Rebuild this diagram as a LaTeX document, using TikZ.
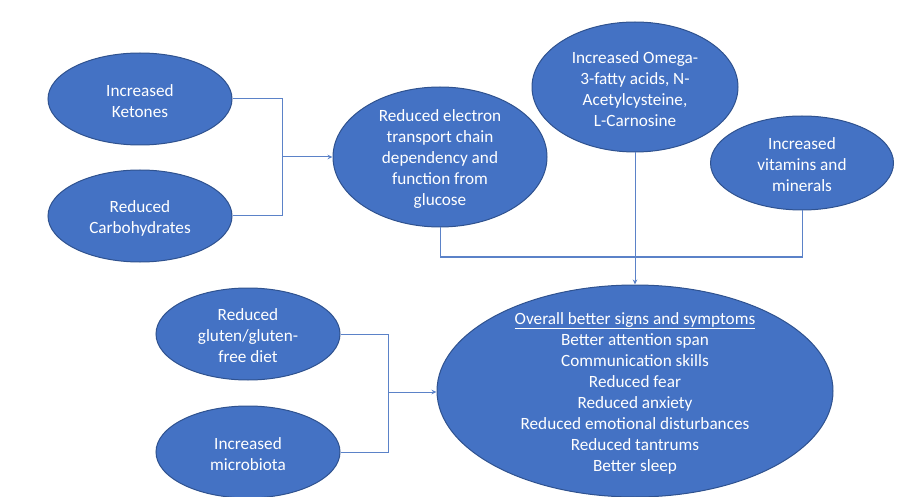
\documentclass[tikz,border=0pt]{standalone}
\usepackage{fontspec}
\setmainfont{Carlito}
\usetikzlibrary{shapes.geometric,arrows.meta}
\definecolor{fillblue}{HTML}{4472C4}
\definecolor{edgeblue}{HTML}{2F528F}
\definecolor{lineblue}{HTML}{5B82C8}
\tikzset{
  blob/.style={ellipse, fill=fillblue, draw=edgeblue, line width=1pt, inner sep=0pt},
  txt/.style={text=white, align=center, font=\fontsize{17.2}{21}\selectfont, inner sep=0pt, yshift=-2pt},
  conn/.style={draw=lineblue, line width=1pt},
  arr/.style={conn, -{Stealth[length=5pt,width=4.5pt]}}
}
\begin{document}
\begin{tikzpicture}[x=1pt,y=-1pt]
\useasboundingbox (0,0) rectangle (905,497);
% ellipses
\node[blob, minimum width=184, minimum height=92] (ket) at (140,99) {};
\node[txt] at (ket) {Increased\\Ketones};
\node[blob, minimum width=184, minimum height=92] (carb) at (140,216) {};
\node[txt] at (carb) {Reduced\\Carbohydrates};
\node[blob, minimum width=214, minimum height=140] (etc) at (440,157) {};
\node[txt] at (etc) {Reduced electron\\transport chain\\dependency and\\function from\\glucose};
\node[blob, minimum width=206, minimum height=130] (omg) at (635,87) {};
\node[txt] at (omg) {Increased Omega-\\3-fatty acids, N-\\Acetylcysteine,\\L-Carnosine};
\node[blob, minimum width=183, minimum height=94] (vit) at (802,163) {};
\node[txt] at (vit) {Increased\\vitamins and\\minerals};
\node[blob, minimum width=184, minimum height=92] (glu) at (248,334) {};
\node[txt] at (glu) {Reduced\\gluten/gluten-\\free diet};
\node[blob, minimum width=184, minimum height=92] (mic) at (248,452) {};
\node[txt] at (mic) {Increased\\microbiota};
\node[blob, minimum width=396, minimum height=212] (big) at (635,391) {};
\node[txt] at (big) {\underline{Overall better signs and symptoms}\\Better attention span\\Communication skills\\Reduced fear\\Reduced anxiety\\Reduced emotional disturbances\\Reduced tantrums\\Better sleep};
% junctions
\coordinate (j1) at (282,157);
\coordinate (j2) at (388,392);
\coordinate (j3) at (635,257);
% connectors
\draw[conn] (ket.east) -| (j1);
\draw[conn] (carb.east) -| (j1);
\draw[arr] (j1) -- (etc.west);
\draw[conn] (glu.east) -| (j2);
\draw[conn] (mic.east) -| (j2);
\draw[arr] (j2) -- (big.west |- j2);
\draw[conn] (etc.south) |- (j3) -| (vit.south);
\draw[arr] (omg.south) -- (big.north);
\end{tikzpicture}
\end{document}
